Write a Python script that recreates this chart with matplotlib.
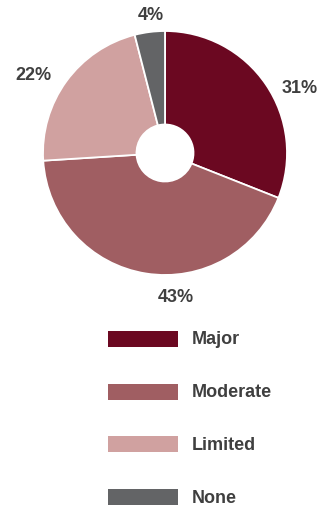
import matplotlib
matplotlib.use("Agg")
import matplotlib.pyplot as plt
from matplotlib.patches import Rectangle

# Share of respondents by level of impact
categories = ["Major", "Moderate", "Limited", "None"]
shares = [31, 43, 22, 4]
colors = ["#6b0821", "#a05e62", "#d0a1a0", "#636466"]

# percentage label anchors (pixel coordinates, y measured from top)
label_xy = [(300, 88), (176, 298), (33, 75), (151, 15)]

W, H = 323, 506
fig = plt.figure(figsize=(W / 100, H / 100), dpi=100)
ax = fig.add_axes([0, 0, 1, 1])

text_color = "#3f3f3f"
font = ["Liberation Sans", "DejaVu Sans"]
fsize = 13

cx, cy, R = 165, 154, 122
ax.pie(
    shares,
    colors=colors,
    startangle=90,
    counterclock=False,
    center=(cx, H - cy),
    radius=R,
    frame=True,
    wedgeprops=dict(width=R - 28.5, edgecolor="white", linewidth=1.3),
)

for v, (x, y) in zip(shares, label_xy):
    ax.text(x, H - y, f"{v}%", ha="center", va="center", fontsize=fsize,
            fontweight="bold", color=text_color, family=font)

# legend swatches and labels
row0, step = 340, 52.7
for i, (name, c) in enumerate(zip(categories, colors)):
    yc = row0 + i * step
    ax.add_patch(Rectangle((108, H - yc - 8), 70, 16, facecolor=c, edgecolor="none"))
    ax.text(192, H - yc, name, ha="left", va="center", fontsize=fsize,
            fontweight="bold", color=text_color, family=font)

ax.set_xlim(0, W)
ax.set_ylim(0, H)
ax.set_aspect("auto")
ax.axis("off")
fig.savefig("out.png", dpi=100, facecolor="white")
